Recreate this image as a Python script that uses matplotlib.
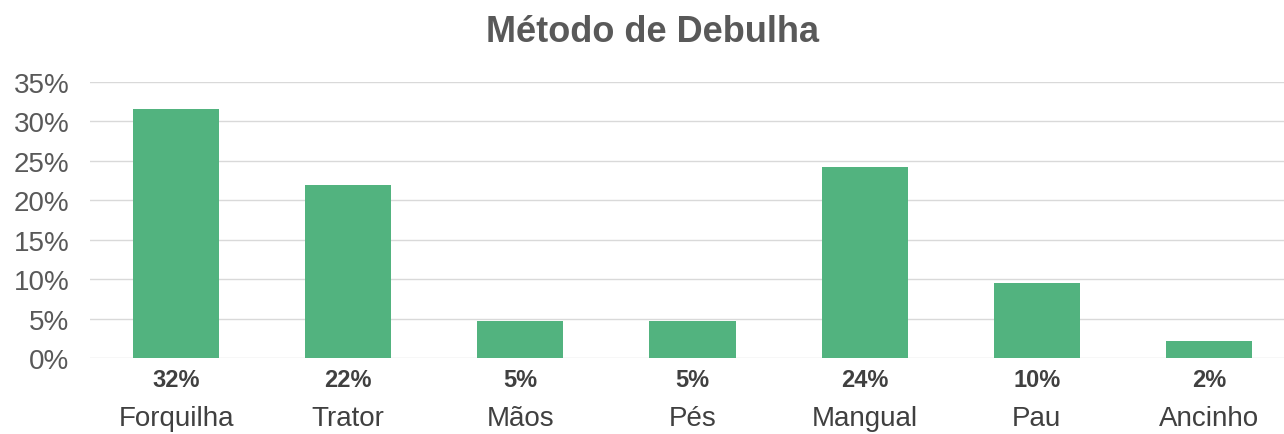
import matplotlib
matplotlib.use("Agg")
import matplotlib.pyplot as plt

categories = ["Forquilha", "Trator", "Mãos", "Pés", "Mangual", "Pau", "Ancinho"]
values = [31.6, 21.9, 4.7, 4.7, 24.2, 9.5, 2.2]
labels = ["32%", "22%", "5%", "5%", "24%", "10%", "2%"]
yticks = [0, 5, 10, 15, 20, 25, 30, 35]

W, H = 1284, 435
fig = plt.figure(figsize=(W / 100, H / 100), dpi=100)
plt.rcParams['font.family'] = ['Liberation Sans', 'DejaVu Sans']

left, right = 90, 1295
top, bottom = 83, 359
ax = fig.add_axes([left / W, 1 - bottom / H, (right - left) / W, (bottom - top) / H])

x = list(range(len(categories)))
ax.bar(x, values, width=0.5, color="#52b37f", zorder=3)
ax.set_xlim(-0.5, len(categories) - 0.5)
ax.set_ylim(0, 35)
ax.set_yticks(yticks)
ax.set_yticklabels([f"{t}%" for t in yticks], fontsize=20, color="#595959")
ax.tick_params(axis='y', length=0, pad=15)
ax.set_xticks([])
ax.grid(axis='y', color="#d9d9d9", linewidth=1, zorder=0)
for s in ax.spines.values():
    s.set_visible(False)

trans = ax.get_xaxis_transform()
for xi, lab, cat in zip(x, labels, categories):
    ax.text(xi, -22 / (bottom - top), lab, transform=trans, ha='center', va='center',
            fontsize=17, fontweight='bold', color="#404040")
    ax.text(xi, -60 / (bottom - top), cat, transform=trans, ha='center', va='center',
            fontsize=20, color="#404040")

fig.text(653 / W, 1 - 33 / H, "Método de Debulha", ha='center', va='center',
         fontsize=26, fontweight='bold', color="#595959")

fig.savefig("out.png", dpi=100)
